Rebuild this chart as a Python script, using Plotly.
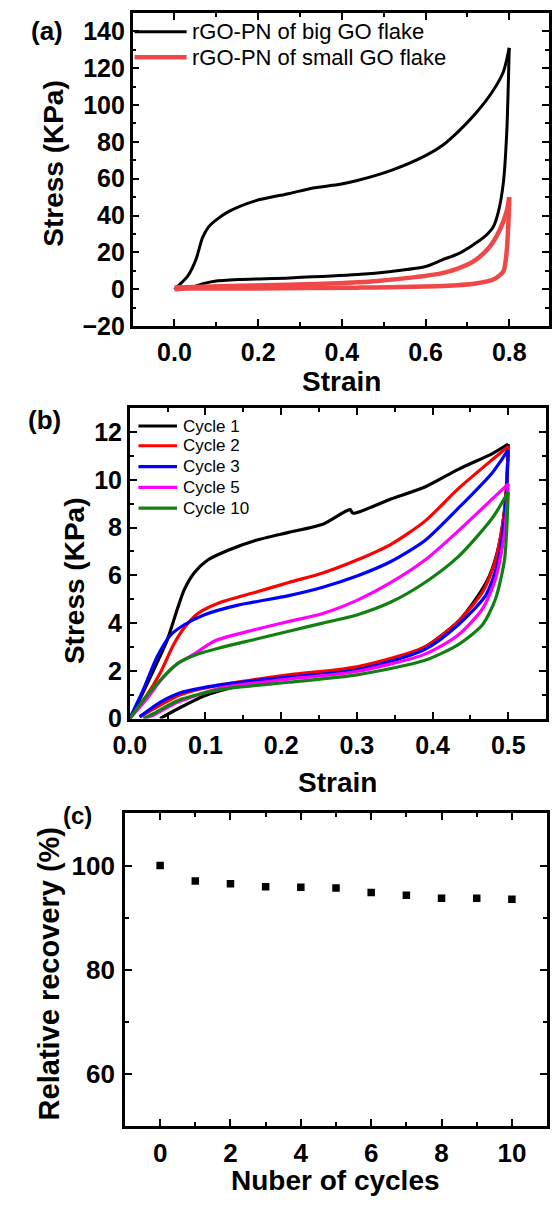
import plotly.graph_objects as go

# ---------------- Panel (a) data ----------------
a_big_strain = [0.0, 0.031, 0.051, 0.067, 0.082, 0.096, 0.128, 0.193, 0.275, 0.331, 0.396, 0.437,
                0.518, 0.6, 0.64, 0.68, 0.72, 0.762, 0.786, 0.8,
                0.794, 0.786, 0.774, 0.762, 0.738, 0.68, 0.64, 0.6, 0.518, 0.437, 0.275, 0.153,
                0.096, 0.071, 0.047, 0.023, 0.006]
a_big_stress = [0.0, 7.0, 16.0, 28.0, 34.0, 37.0, 42.0, 48.0, 52.0, 55.0, 57.0, 59.0,
                64.5, 72.5, 78.0, 86.0, 95.5, 108.0, 118.0, 131.0,
                85.0, 58.0, 42.0, 34.0, 28.0, 19.5, 16.0, 12.4, 9.7, 8.0, 6.2, 5.3,
                4.4, 3.2, 1.4, 0.4, -0.3]
a_small_strain = [0.0, 0.07, 0.19, 0.356, 0.478, 0.56, 0.64, 0.68, 0.72, 0.753, 0.777, 0.794, 0.8,
                  0.799, 0.794, 0.786, 0.762, 0.72, 0.64, 0.437, 0.193, 0.03, 0.0]
a_small_stress = [1.0, 1.4, 2.1, 3.0, 4.4, 6.2, 8.8, 11.5, 16.0, 23.0, 32.0, 42.4, 50.0,
                  42.0, 21.0, 9.7, 5.3, 3.2, 1.8, 0.9, 0.5, 0.4, 0.0]
a_names = ["rGO-PN of big GO flake", "rGO-PN of small GO flake"]

# ---------------- Panel (b) data ----------------
b_names = ["Cycle 1", "Cycle 2", "Cycle 3", "Cycle 5", "Cycle 10"]
c1_strain = [0.0, 0.013, 0.031, 0.049, 0.063, 0.072, 0.085, 0.103, 0.13, 0.166, 0.21, 0.255, 0.291,
             0.295, 0.345, 0.39, 0.434, 0.479, 0.5,
             0.497, 0.488, 0.475, 0.457, 0.434, 0.39, 0.345, 0.3, 0.21, 0.143, 0.098, 0.063, 0.04]
c1_stress = [0.0, 0.8, 2.0, 3.25, 4.6, 5.4, 6.1, 6.64, 7.05, 7.46, 7.8, 8.14, 8.75,
             8.6, 9.2, 9.7, 10.44, 11.1, 11.5,
             9.36, 7.3, 5.97, 5.0, 4.07, 3.0, 2.44, 2.1, 1.7, 1.36, 0.95, 0.4, 0.0]
c2_strain = [0.0, 0.022, 0.04, 0.058, 0.072, 0.09, 0.121, 0.166, 0.21, 0.255, 0.3, 0.345, 0.39,
             0.434, 0.479, 0.5,
             0.495, 0.483, 0.466, 0.434, 0.39, 0.3, 0.21, 0.121, 0.067, 0.031, 0.013]
c2_stress = [0.0, 0.95, 1.9, 3.1, 3.8, 4.4, 4.88, 5.29, 5.7, 6.1, 6.64, 7.3, 8.27,
             9.63, 10.85, 11.4,
             8.7, 6.6, 5.3, 4.07, 3.0, 2.17, 1.83, 1.42, 1.0, 0.4, 0.07]
c3_strain = [0.0, 0.018, 0.036, 0.054, 0.072, 0.098, 0.143, 0.21, 0.255, 0.3, 0.345, 0.39,
             0.434, 0.479, 0.5,
             0.496, 0.486, 0.47, 0.434, 0.39, 0.3, 0.21, 0.121, 0.067, 0.04, 0.013]
c3_stress = [0.0, 1.22, 2.58, 3.5, 3.93, 4.34, 4.75, 5.15, 5.5, 5.97, 6.58, 7.46,
             8.81, 10.3, 11.25,
             8.7, 6.5, 5.15, 3.93, 2.9, 2.03, 1.74, 1.42, 1.08, 0.68, 0.07]
c5_strain = [0.0, 0.022, 0.045, 0.063, 0.085, 0.112, 0.166, 0.21, 0.255, 0.3, 0.345, 0.39,
             0.434, 0.479, 0.5,
             0.495, 0.483, 0.466, 0.434, 0.39, 0.3, 0.21, 0.121, 0.063, 0.031, 0.018]
c5_stress = [0.0, 0.81, 1.76, 2.3, 2.7, 3.25, 3.73, 4.07, 4.4, 4.95, 5.7, 6.64,
             7.86, 9.2, 9.83,
             7.73, 5.83, 4.6, 3.5, 2.7, 1.97, 1.65, 1.29, 0.68, 0.14, 0.0]
c10_strain = [0.0, 0.022, 0.045, 0.063, 0.09, 0.121, 0.166, 0.21, 0.255, 0.3, 0.345, 0.39,
              0.434, 0.479, 0.5,
              0.495, 0.483, 0.466, 0.434, 0.39, 0.3, 0.21, 0.121, 0.063, 0.031, 0.018]
c10_stress = [0.0, 0.95, 1.76, 2.3, 2.7, 2.98, 3.32, 3.66, 4.0, 4.34, 4.88, 5.7,
              6.78, 8.4, 9.5,
              6.64, 5.0, 3.93, 3.1, 2.44, 1.83, 1.52, 1.22, 0.75, 0.2, 0.0]

# ---------------- Panel (c) data ----------------
c_cycles = [0, 1, 2, 3, 4, 5, 6, 7, 8, 9, 10]
c_recovery = [100.0, 97.0, 96.5, 95.9, 95.8, 95.7, 94.8, 94.3, 93.7, 93.7, 93.5]

# ---------------- styling ----------------
W, H = 552, 1207
FONT = "Liberation Sans, Arial, sans-serif"
a_colors = ["#000000", "#F04848"]
a_widths = [3, 4.5]
b_colors = ["#000000", "#FF0000", "#0000FF", "#FF00FF", "#108010"]


def px(x):
    return x / W


def py(y):
    return 1 - y / H


fig = go.Figure()


def add_loop(sx, sy, color, width, name, xa, ya):
    # split the hysteresis loop at maximum strain into loading / unloading branches
    i = sx.index(max(sx))
    for seg_x, seg_y in [(sx[:i + 1], sy[:i + 1]), (sx[i:], sy[i:])]:
        fig.add_trace(go.Scatter(x=seg_x, y=seg_y, mode="lines", name=name,
                                 line=dict(color=color, width=width, shape="spline", smoothing=0.7),
                                 xaxis=xa, yaxis=ya))


add_loop(a_big_strain, a_big_stress, a_colors[0], a_widths[0], a_names[0], "x", "y")
add_loop(a_small_strain, a_small_stress, a_colors[1], a_widths[1], a_names[1], "x", "y")

b_series = [(c1_strain, c1_stress), (c2_strain, c2_stress), (c3_strain, c3_stress),
            (c5_strain, c5_stress), (c10_strain, c10_stress)]
for (sx, sy), nm, col in zip(b_series, b_names, b_colors):
    add_loop(sx, sy, col, 3.2, nm, "x2", "y2")

fig.add_trace(go.Scatter(x=c_cycles, y=c_recovery, mode="markers", name="recovery",
                         marker=dict(symbol="square", size=7.5, color="black"),
                         xaxis="x3", yaxis="y3"))


def axis(domain, rng, dtick, minor_dtick, anchor, tick0=None, size=25, standoff=None, fmt=None):
    d = dict(domain=domain, range=rng, dtick=dtick, anchor=anchor,
             showline=True, linecolor="black", linewidth=2.5, mirror="ticks",
             ticks="inside", ticklen=7, tickwidth=2, tickcolor="black",
             minor=dict(ticks="inside", ticklen=4, tickwidth=2, tickcolor="black", dtick=minor_dtick),
             showgrid=False, zeroline=False,
             tickfont=dict(family=FONT, size=size, color="black", weight="bold"))
    if tick0 is not None:
        d["tick0"] = tick0
    if standoff is not None:
        d["ticklabelstandoff"] = standoff
    if fmt is not None:
        d["tickformat"] = fmt
    return d


fig.update_layout(
    width=W, height=H, margin=dict(l=0, r=0, t=0, b=0),
    paper_bgcolor="white", plot_bgcolor="white", showlegend=False,
    xaxis=axis([px(120), 1.0], [-0.1, 0.895], 0.2, 0.1, "y", tick0=0, standoff=2, fmt=".1f"),
    yaxis=axis([py(330), py(13)], [-20, 150], 20, 10, "x", tick0=0, standoff=0),
    xaxis2=axis([px(117), px(549)], [0, 0.55], 0.1, 0.05, "y2", tick0=0, standoff=3, fmt=".1f"),
    yaxis2=axis([py(727), py(413)], [0, 13], 2, 1, "x2", tick0=0, standoff=0),
    xaxis3=axis([px(112), px(550)], [-1, 11], 2, 1, "y3", tick0=0, size=26, standoff=2),
    yaxis3=axis([py(1139), py(823)], [50, 110], 20, 10, "x3", tick0=60, size=26, standoff=2),
)

# legend (a), drawn in paper coordinates
a_leg_y = [32, 58]
for yy, col, wd, nm in zip(a_leg_y, a_colors, a_widths, a_names):
    fig.add_shape(type="line", xref="paper", yref="paper", x0=px(122), x1=px(176),
                  y0=py(yy), y1=py(yy), line=dict(color=col, width=wd))
    fig.add_annotation(xref="paper", yref="paper", x=px(180), y=py(yy), text=nm,
                       showarrow=False, xanchor="left", yanchor="middle",
                       font=dict(family=FONT, size=22, color="black"))

# legend (b)
b_leg_y = [431, 451, 472, 493, 514]
for yy, col, nm in zip(b_leg_y, b_colors, b_names):
    fig.add_shape(type="line", xref="paper", yref="paper", x0=px(126), x1=px(166),
                  y0=py(yy), y1=py(yy), line=dict(color=col, width=3.2))
    fig.add_annotation(xref="paper", yref="paper", x=px(170), y=py(yy), text=nm,
                       showarrow=False, xanchor="left", yanchor="middle",
                       font=dict(family=FONT, size=17, color="black"))

# titles and panel labels
texts = [
    ("(a)", 31, 31, 0, 26),
    ("Stress (KPa)", 37, 165, -90, 28),
    ("Strain", 337, 386, 0, 28),
    ("(b)", 29, 425, 0, 26),
    ("Stress (KPa)", 59, 587, -90, 28),
    ("Strain", 333, 792, 0, 28),
    ("(c)", 63, 825, 0, 24),
    ("Relative recovery (%)", 33, 985, -90, 29),
    ("Nuber of cycles", 330, 1194, 0, 28),
]
for t, x, y, ang, sz in texts:
    fig.add_annotation(xref="paper", yref="paper", x=px(x), y=py(y), text=t, textangle=ang,
                       showarrow=False, xanchor="center", yanchor="middle",
                       font=dict(family=FONT, size=sz, color="black", weight="bold"))

fig.write_html("out.html", config={"displayModeBar": False},
               post_script="document.body.style.margin='0';document.body.style.overflow='hidden';")
